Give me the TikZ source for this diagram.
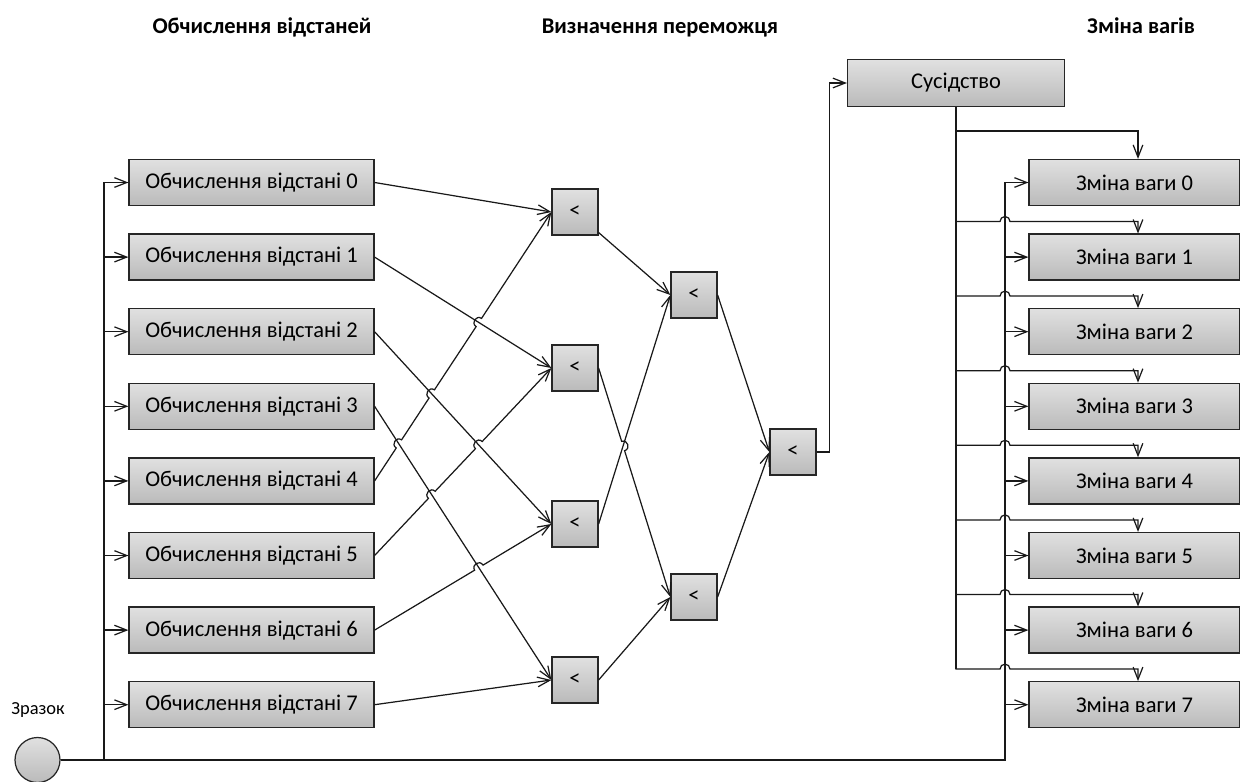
\documentclass[tikz,border=0pt]{standalone}
\usepackage{fontspec}
\setmainfont{Carlito}
\usetikzlibrary{arrows.meta, calc}

\tikzset{
  blok/.style={draw=black!85, line width=0.7pt, top color=black!12, bottom color=black!27,
    minimum height=0.92cm, inner sep=0pt, font=\fontsize{12.8}{15}\selectfont},
  obch/.style={blok, minimum width=4.9cm},
  porivn/.style={blok, minimum width=0.92cm},
  zmina/.style={blok, minimum width=4.22cm},
  zv/.style={draw=black!90, line width=0.7pt, -{Straight Barb[length=7pt,width=5.5pt]}},
  shyna/.style={draw=black!90, line width=1.5pt},
  hop/.style={bend left=90, looseness=1.7},
  zag/.style={anchor=base, font=\bfseries\fontsize{12.8}{15}\selectfont}
}

\begin{document}
\begin{tikzpicture}[x=0.02cm, y=-0.02cm]
    \useasboundingbox (0,0) rectangle (1240,781);
    % Headings
    \node[zag] (z1) at (262,33) {Обчислення відстаней};
    \node[zag] (z2) at (660,33) {Визначення переможця};
    \node[zag] (z3) at (1141,33) {Зміна вагів};
    % Distance and weight blocks
    \foreach \i in {0,...,7} {
        \pgfmathsetmacro{\yy}{182.5+74.6*\i}
        \node[obch] (d\i) at (251.5,\yy) {Обчислення відстані \i};
        \node[zmina] (w\i) at (1134.5,\yy) {Зміна ваги \i};
    }
    % Comparators
    \node[porivn] (cA) at (575,212) {<};
    \node[porivn] (cB) at (575,368) {<};
    \node[porivn] (cC) at (575,524) {<};
    \node[porivn] (cD) at (575,680) {<};
    \node[porivn] (cE) at (694,295) {<};
    \node[porivn] (cF) at (694,597) {<};
    \node[porivn] (cG) at (793,452) {<};
    \node[blok, minimum width=4.34cm, minimum height=0.94cm] (sus) at (956,83) {Сусідство};
    % Sample
    \node[circle, draw=black!85, line width=0.7pt, top color=black!12, bottom color=black!27,
        minimum size=0.9cm, inner sep=0pt] (src) at (37.5,760) {};
    \node[font=\fontsize{10.5}{12}\selectfont] (srcl) at (38,710) {Зразок};
    \coordinate (busL) at (104,760);
    \coordinate (busR) at (1005,760);
    \coordinate (tapR) at (1138,0);

    % Sample to all blocks
    \foreach \i in {0,...,7} {
        \draw[zv] (src.east) -- (busL) -- (busL |- d\i.west) -- (d\i.west);
        \draw[zv] (src.east) -- (busR) -- (busR |- w\i.west) -- (w\i.west);
    }
    \draw[shyna] (busL |- d1.west) -- (busL) (src.east) -- (busR) -- (busR |- w1.west);

    % First stage
    \draw[zv] (d0.east) -- (cA.west);
    \draw[zv] (d1.east) -- (cB.west);
    \draw[zv] (d2.east) -- (cC.west);
    \draw[zv] (d3.east) -- (cD.west);
    \draw[zv] (d7.east) -- (cD.west);
    \coordinate (x41) at (intersection of d4.east--cA.west and d1.east--cB.west);
    \coordinate (x42) at (intersection of d4.east--cA.west and d2.east--cC.west);
    \coordinate (x43) at (intersection of d4.east--cA.west and d3.east--cD.west);
    \coordinate (x52) at (intersection of d5.east--cB.west and d2.east--cC.west);
    \coordinate (x53) at (intersection of d5.east--cB.west and d3.east--cD.west);
    \coordinate (x63) at (intersection of d6.east--cC.west and d3.east--cD.west);
    \draw[zv] (d4.east) -- ($(x43)!2.8pt!(d4.east)$) to[hop] ($(x43)!2.8pt!(cA.west)$)
        -- ($(x42)!2.8pt!(d4.east)$) to[hop] ($(x42)!2.8pt!(cA.west)$)
        -- ($(x41)!2.8pt!(d4.east)$) to[hop] ($(x41)!2.8pt!(cA.west)$) -- (cA.west);
    \draw[zv] (d5.east) -- ($(x53)!2.8pt!(d5.east)$) to[hop] ($(x53)!2.8pt!(cB.west)$)
        -- ($(x52)!2.8pt!(d5.east)$) to[hop] ($(x52)!2.8pt!(cB.west)$) -- (cB.west);
    \draw[zv] (d6.east) -- ($(x63)!2.8pt!(d6.east)$) to[hop] ($(x63)!2.8pt!(cC.west)$) -- (cC.west);

    % Second and third stage
    \coordinate (xBC) at (intersection of cB.east--cF.west and cC.east--cE.west);
    \draw[zv] (cA) -- (cE.west);
    \draw[zv] (cC.east) -- (cE.west);
    \draw[zv] (cB.east) -- ($(xBC)!2.8pt!(cB.east)$) to[hop] ($(xBC)!2.8pt!(cF.west)$) -- (cF.west);
    \draw[zv] (cD.east) -- (cF.west);
    \draw[zv] (cE.east) -- (cG.west);
    \draw[zv] (cF.east) -- (cG.west);
    \draw[zv] (cG.east) -- ++(13,0) |- (sus.west);

    % Neighbourhood to weight blocks
    \coordinate (br0) at (956,131);
    \foreach \i in {1,...,7}
        \coordinate (br\i) at ($(w\i.north)+(0,-12)$);
    \draw[zv] (sus.south) -- (sus.south |- br0) -- (tapR |- br0) -- (tapR |- w0.north);
    \foreach \i in {1,...,7}
        \draw[zv] (sus.south) -- (sus.south |- br\i) -- ($(busR |- br\i)+(-5,0)$)
            arc[start angle=180, end angle=0, radius=0.1cm] -- (tapR |- br\i) -- (tapR |- w\i.north);
    \draw[shyna] (sus.south) -- (sus.south |- br7);
\end{tikzpicture}
\end{document}
